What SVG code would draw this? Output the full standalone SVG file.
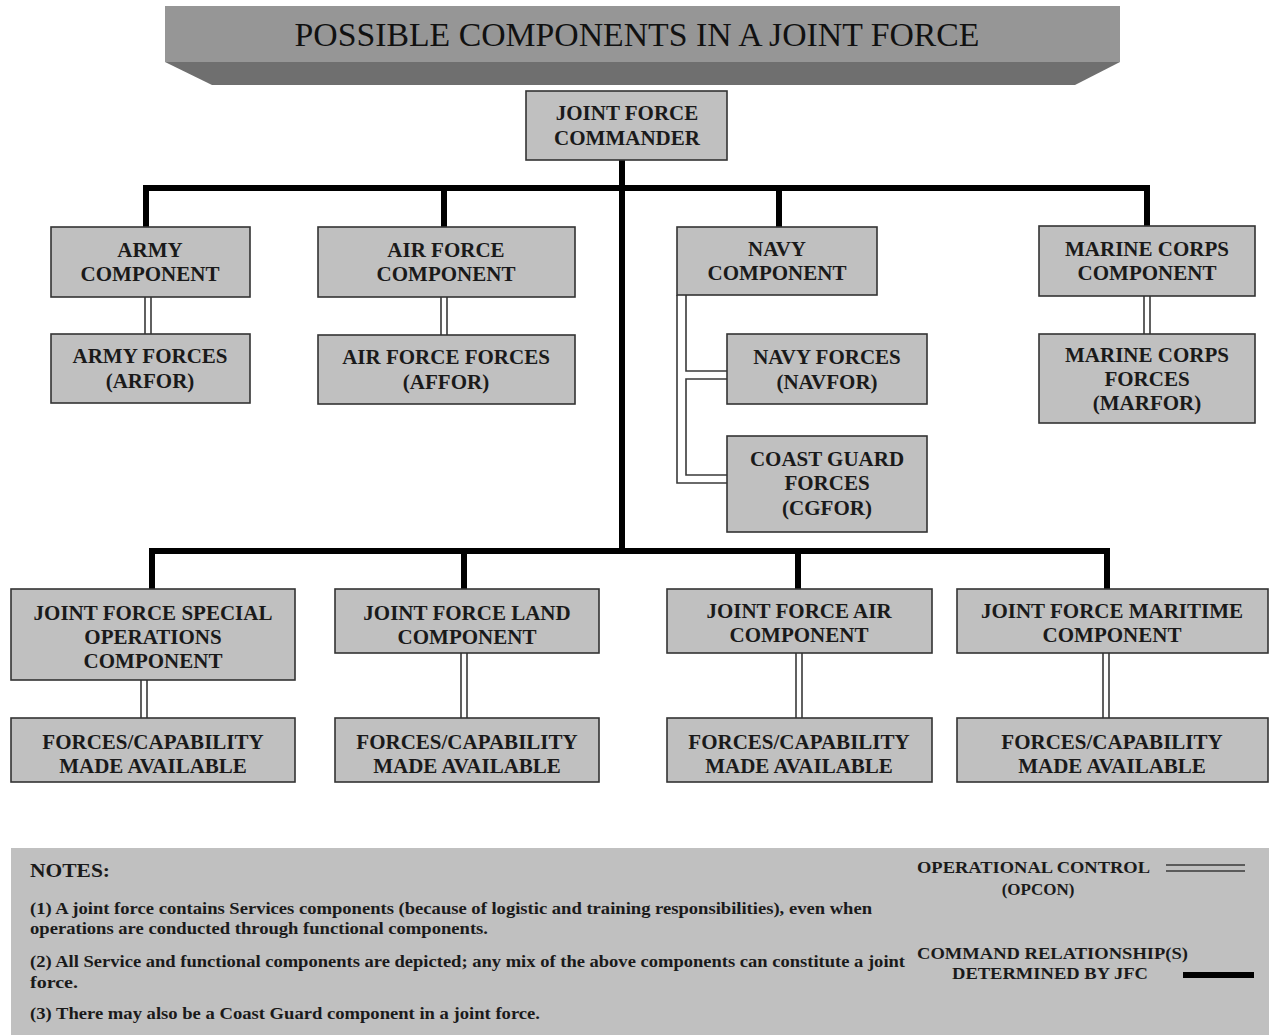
<svg xmlns="http://www.w3.org/2000/svg" width="1269" height="1035" viewBox="0 0 1269 1035">
<style>
.box{fill:#c0c0c0;stroke:#333;stroke-width:1.6}
.t{font-family:"Liberation Serif","Times New Roman",serif;font-weight:bold;font-size:21px;fill:#1a1a1a;text-anchor:middle}
.n{font-family:"Liberation Serif","Times New Roman",serif;font-weight:bold;font-size:16px;fill:#1a1a1a}
.cmd{fill:none;stroke:#000;stroke-width:6;stroke-linejoin:miter;stroke-linecap:square}
.op{fill:none;stroke:#3a3a3a;stroke-width:1.6}
</style>
<rect width="1269" height="1035" fill="#fff"/>
<g id="title">
<rect x="165" y="6" width="955" height="56" fill="#969696"/>
<polygon points="165,62 1120,62 1075,85 212,85" fill="#6f6f6f"/>
<text x="637" y="46" textLength="685" lengthAdjust="spacingAndGlyphs" style="font-family:'Liberation Serif','Times New Roman',serif;font-size:34px;fill:#111;text-anchor:middle">POSSIBLE COMPONENTS IN A JOINT FORCE</text>
</g>
<g id="connectors">
<path class="cmd" d="M622,160 V551"/>
<path class="cmd" d="M146,227 V188 H1147 V226"/>
<path class="cmd" d="M444,188 V227"/>
<path class="cmd" d="M779,188 V227"/>
<path class="cmd" d="M152,589 V551 H1107 V589"/>
<path class="cmd" d="M464,551 V589"/>
<path class="cmd" d="M798,551 V589"/>
<path class="op" d="M145,297 V334 M151,297 V334"/>
<path class="op" d="M441,297 V335 M447,297 V335"/>
<path class="op" d="M1144,296 V334 M1150,296 V334"/>
<path class="op" d="M686,295 V371 H727"/>
<path class="op" d="M727,379 H686 V475 H727"/>
<path class="op" d="M677,295 V483 H727"/>
<path class="op" d="M141,680 V718 M147,680 V718"/>
<path class="op" d="M461,653 V718 M467,653 V718"/>
<path class="op" d="M796,653 V718 M802,653 V718"/>
<path class="op" d="M1103,653 V718 M1109,653 V718"/>
</g>
<g id="jfc"><rect class="box" x="526" y="91" width="201" height="69"/><text class="t" x="627" y="120">JOINT FORCE</text><text class="t" x="627" y="145">COMMANDER</text></g>
<g id="army"><rect class="box" x="51" y="227" width="199" height="70"/><text class="t" x="150" y="257">ARMY</text><text class="t" x="150" y="281">COMPONENT</text></g>
<g id="arfor"><rect class="box" x="51" y="334" width="199" height="69"/><text class="t" x="150" y="363">ARMY FORCES</text><text class="t" x="150" y="388">(ARFOR)</text></g>
<g id="airforce"><rect class="box" x="318" y="227" width="257" height="70"/><text class="t" x="446" y="257">AIR FORCE</text><text class="t" x="446" y="281">COMPONENT</text></g>
<g id="affor"><rect class="box" x="318" y="335" width="257" height="69"/><text class="t" x="446" y="364">AIR FORCE FORCES</text><text class="t" x="446" y="389">(AFFOR)</text></g>
<g id="navy"><rect class="box" x="677" y="227" width="200" height="68"/><text class="t" x="777" y="256">NAVY</text><text class="t" x="777" y="280">COMPONENT</text></g>
<g id="navfor"><rect class="box" x="727" y="334" width="200" height="70"/><text class="t" x="827" y="364">NAVY FORCES</text><text class="t" x="827" y="389">(NAVFOR)</text></g>
<g id="cgfor"><rect class="box" x="727" y="436" width="200" height="96"/><text class="t" x="827" y="466">COAST GUARD</text><text class="t" x="827" y="490">FORCES</text><text class="t" x="827" y="515">(CGFOR)</text></g>
<g id="marine"><rect class="box" x="1039" y="226" width="216" height="70"/><text class="t" x="1147" y="256">MARINE CORPS</text><text class="t" x="1147" y="280">COMPONENT</text></g>
<g id="marfor"><rect class="box" x="1039" y="334" width="216" height="89"/><text class="t" x="1147" y="362">MARINE CORPS</text><text class="t" x="1147" y="386">FORCES</text><text class="t" x="1147" y="410">(MARFOR)</text></g>
<g id="jfsoc"><rect class="box" x="11" y="589" width="284" height="91"/><text class="t" x="153" y="620">JOINT FORCE SPECIAL</text><text class="t" x="153" y="644">OPERATIONS</text><text class="t" x="153" y="668">COMPONENT</text></g>
<g id="jfsoc-forces"><rect class="box" x="11" y="718" width="284" height="64"/><text class="t" x="153" y="749">FORCES/CAPABILITY</text><text class="t" x="153" y="773">MADE AVAILABLE</text></g>
<g id="jflcc"><rect class="box" x="335" y="589" width="264" height="64"/><text class="t" x="467" y="620">JOINT FORCE LAND</text><text class="t" x="467" y="644">COMPONENT</text></g>
<g id="jflcc-forces"><rect class="box" x="335" y="718" width="264" height="64"/><text class="t" x="467" y="749">FORCES/CAPABILITY</text><text class="t" x="467" y="773">MADE AVAILABLE</text></g>
<g id="jfacc"><rect class="box" x="667" y="589" width="265" height="64"/><text class="t" x="799" y="618">JOINT FORCE AIR</text><text class="t" x="799" y="642">COMPONENT</text></g>
<g id="jfacc-forces"><rect class="box" x="667" y="718" width="265" height="64"/><text class="t" x="799" y="749">FORCES/CAPABILITY</text><text class="t" x="799" y="773">MADE AVAILABLE</text></g>
<g id="jfmcc"><rect class="box" x="957" y="589" width="311" height="64"/><text class="t" x="1112" y="618">JOINT FORCE MARITIME</text><text class="t" x="1112" y="642">COMPONENT</text></g>
<g id="jfmcc-forces"><rect class="box" x="957" y="718" width="311" height="64"/><text class="t" x="1112" y="749">FORCES/CAPABILITY</text><text class="t" x="1112" y="773">MADE AVAILABLE</text></g>
<g id="notes">
<rect x="11" y="848" width="1258" height="187" fill="#c0c0c0"/>
<text class="n" x="30" y="877" style="font-size:19px" textLength="80" lengthAdjust="spacingAndGlyphs">NOTES:</text>
<text class="n" x="30" y="914" textLength="842" lengthAdjust="spacingAndGlyphs">(1) A joint force contains Services components (because of logistic and training responsibilities), even when</text>
<text class="n" x="30" y="934" textLength="458" lengthAdjust="spacingAndGlyphs">operations are conducted through functional components.</text>
<text class="n" x="30" y="967" textLength="875" lengthAdjust="spacingAndGlyphs">(2) All Service and functional components are depicted; any mix of the above components can constitute a joint</text>
<text class="n" x="30" y="988" textLength="48" lengthAdjust="spacingAndGlyphs">force.</text>
<text class="n" x="30" y="1019" textLength="510" lengthAdjust="spacingAndGlyphs">(3) There may also be a Coast Guard component in a joint force.</text>
</g>
<g id="legend">
<text class="n" x="917" y="873" style="font-size:17px" textLength="233" lengthAdjust="spacingAndGlyphs">OPERATIONAL CONTROL</text>
<text class="n" x="1038" y="895" style="font-size:17px;text-anchor:middle">(OPCON)</text>
<path class="op" d="M1166,865 H1245 M1166,871 H1245"/>
<text class="n" x="917" y="959" style="font-size:17px" textLength="271" lengthAdjust="spacingAndGlyphs">COMMAND RELATIONSHIP(S)</text>
<text class="n" x="952" y="979" style="font-size:17px" textLength="196" lengthAdjust="spacingAndGlyphs">DETERMINED BY JFC</text>
<path d="M1183,975 H1254" stroke="#000" stroke-width="6"/>
</g>
</svg>
